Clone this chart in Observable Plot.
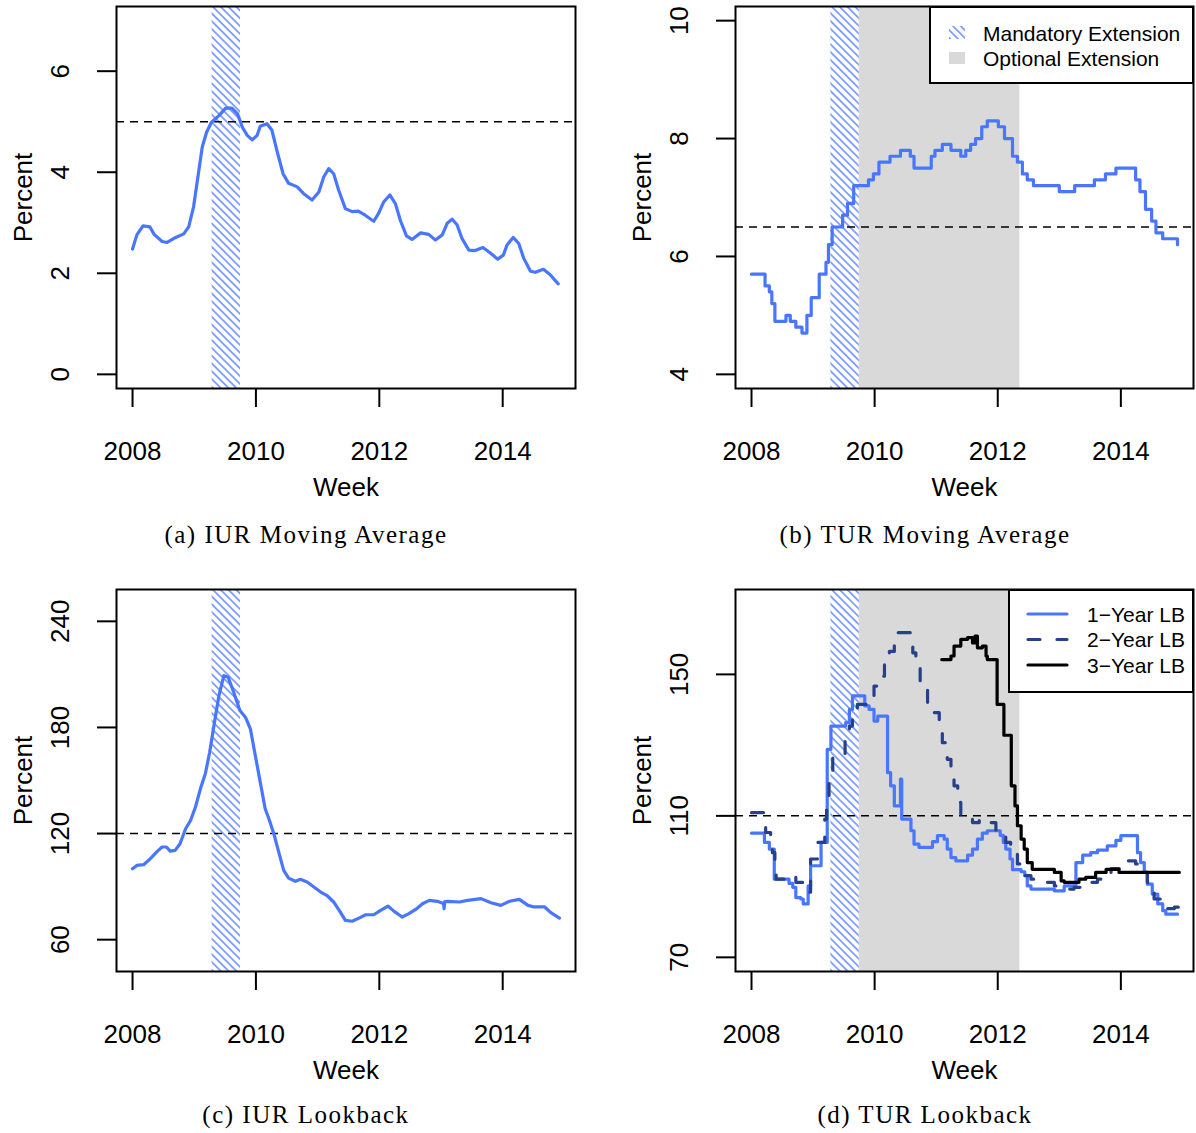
<!DOCTYPE html>
<html><head><meta charset="utf-8">
<script src="https://cdn.jsdelivr.net/npm/d3@7"></script>
<script src="https://cdn.jsdelivr.net/npm/@observablehq/plot@0.6"></script>
<style>
body{margin:0;background:#fff;}
#wrap{position:relative;width:1196px;height:1133px;background:#fff;overflow:hidden;}
.panel{position:absolute;}
.cap{position:absolute;width:500px;text-align:center;font-family:"Liberation Serif","Times New Roman",serif;font-size:25px;letter-spacing:1.5px;color:#000;line-height:30px;}
.legend{position:absolute;}
</style></head><body><div id="wrap"></div>
<script>
// ---------- data (decimal year, percent) ----------
const xTicks = [2008, 2010, 2012, 2014];
const mandatorySpan = [2009.29, 2009.75];
const optionalSpan = [2009.75, 2012.36];

const iurMaTicks = [0, 2, 4, 6];
const iurMaThreshold = 5;
const iurMa = [[2008.00,2.48],[2008.07,2.76],[2008.17,2.94],[2008.28,2.92],[2008.35,2.77],[2008.48,2.63],[2008.56,2.61],[2008.70,2.71],[2008.83,2.78],[2008.91,2.92],[2008.99,3.32],[2009.06,3.91],[2009.13,4.50],[2009.20,4.79],[2009.28,4.99],[2009.40,5.12],[2009.51,5.27],[2009.61,5.27],[2009.70,5.16],[2009.78,4.89],[2009.86,4.73],[2009.94,4.64],[2010.02,4.73],[2010.07,4.91],[2010.18,4.96],[2010.26,4.83],[2010.34,4.43],[2010.44,3.97],[2010.53,3.78],[2010.67,3.71],[2010.77,3.58],[2010.91,3.45],[2011.02,3.61],[2011.10,3.91],[2011.18,4.07],[2011.26,3.97],[2011.34,3.65],[2011.45,3.28],[2011.56,3.22],[2011.66,3.23],[2011.77,3.15],[2011.91,3.03],[2011.99,3.19],[2012.07,3.41],[2012.17,3.55],[2012.26,3.38],[2012.34,3.05],[2012.44,2.74],[2012.53,2.67],[2012.67,2.80],[2012.80,2.77],[2012.91,2.66],[2013.02,2.76],[2013.10,2.99],[2013.18,3.07],[2013.26,2.96],[2013.34,2.69],[2013.45,2.46],[2013.55,2.45],[2013.68,2.51],[2013.80,2.40],[2013.92,2.28],[2014.01,2.36],[2014.07,2.56],[2014.17,2.71],[2014.26,2.59],[2014.34,2.30],[2014.45,2.04],[2014.53,2.02],[2014.66,2.08],[2014.77,1.97],[2014.90,1.79]];

const turMaTicks = [4, 6, 8, 10];
const turMaThreshold = 6.5;
const turMa = [[2008.00,5.7],[2008.22,5.5],[2008.29,5.4],[2008.33,5.2],[2008.38,4.9],[2008.56,5.0],[2008.63,4.9],[2008.72,4.8],[2008.82,4.7],[2008.90,5.0],[2008.97,5.3],[2009.10,5.7],[2009.21,5.9],[2009.25,6.2],[2009.31,6.5],[2009.48,6.7],[2009.56,6.9],[2009.66,7.2],[2009.90,7.3],[2009.98,7.4],[2010.07,7.6],[2010.25,7.7],[2010.42,7.8],[2010.58,7.7],[2010.64,7.5],[2010.92,7.7],[2010.98,7.8],[2011.10,7.9],[2011.24,7.8],[2011.40,7.7],[2011.48,7.8],[2011.56,7.9],[2011.64,8.0],[2011.74,8.2],[2011.83,8.3],[2012.01,8.2],[2012.11,8.0],[2012.24,7.7],[2012.32,7.6],[2012.40,7.4],[2012.48,7.3],[2012.58,7.2],[2013.00,7.1],[2013.25,7.2],[2013.57,7.3],[2013.75,7.4],[2013.92,7.5],[2014.24,7.3],[2014.31,7.1],[2014.40,6.8],[2014.50,6.6],[2014.57,6.4],[2014.68,6.3],[2014.88,6.3],[2014.92,6.2]];

const iurLbTicks = [60, 120, 180, 240];
const iurLbThreshold = 120;
const iurLb = [[2008.00,100.1],[2008.07,102.0],[2008.18,102.4],[2008.29,105.8],[2008.40,109.9],[2008.48,112.4],[2008.55,112.4],[2008.61,110.1],[2008.69,110.5],[2008.77,114.2],[2008.86,122.7],[2008.94,127.4],[2009.02,135.0],[2009.10,145.3],[2009.18,153.8],[2009.25,166.0],[2009.32,181.1],[2009.40,198.0],[2009.48,209.3],[2009.55,208.4],[2009.64,199.9],[2009.74,189.6],[2009.83,185.8],[2009.91,179.2],[2009.99,164.1],[2010.07,149.1],[2010.15,134.0],[2010.21,128.4],[2010.29,119.9],[2010.37,109.5],[2010.45,99.2],[2010.53,94.8],[2010.64,93.0],[2010.72,94.1],[2010.83,92.6],[2010.94,89.8],[2011.05,86.9],[2011.16,84.7],[2011.26,81.3],[2011.35,76.6],[2011.45,70.9],[2011.56,70.4],[2011.67,72.2],[2011.78,74.1],[2011.91,74.1],[2012.02,76.6],[2012.14,79.0],[2012.24,76.0],[2012.37,72.8],[2012.48,74.7],[2012.59,77.1],[2012.70,80.3],[2012.81,82.2],[2012.94,81.7],[2013.04,80.5],[2013.05,77.5],[2013.06,81.5],[2013.11,81.7],[2013.30,81.3],[2013.43,82.2],[2013.65,83.2],[2013.81,80.9],[2013.97,79.4],[2014.11,81.7],[2014.27,82.8],[2014.41,79.4],[2014.51,78.5],[2014.68,78.5],[2014.78,75.3],[2014.92,72.2]];

const turLbTicks = [70, 110, 150];
const turLbThreshold = 110;
const turLb1 = [[2008.00,105.1],[2008.21,102.5],[2008.29,100.6],[2008.37,92.1],[2008.61,90.9],[2008.67,89.8],[2008.72,86.9],[2008.80,86.5],[2008.84,85.1],[2008.92,90.2],[2008.96,95.9],[2009.13,102.5],[2009.23,128.8],[2009.29,135.4],[2009.53,136.4],[2009.59,140.1],[2009.64,143.9],[2009.84,141.1],[2009.91,140.1],[2009.99,136.8],[2010.05,138.2],[2010.21,122.2],[2010.26,118.5],[2010.32,112.8],[2010.42,120.4],[2010.44,109.1],[2010.59,105.8],[2010.64,102.0],[2010.72,101.1],[2010.94,102.7],[2011.02,104.4],[2011.13,103.4],[2011.18,100.6],[2011.24,98.2],[2011.32,97.3],[2011.51,98.9],[2011.59,100.6],[2011.67,103.4],[2011.75,105.1],[2011.83,105.8],[2012.04,104.5],[2012.09,102.5],[2012.13,100.6],[2012.20,97.8],[2012.24,94.8],[2012.38,94.2],[2012.44,93.1],[2012.48,90.2],[2012.54,89.3],[2012.92,88.8],[2013.08,90.2],[2013.27,96.8],[2013.38,98.9],[2013.51,99.6],[2013.62,100.3],[2013.78,101.5],[2013.92,103.1],[2014.00,104.4],[2014.27,99.6],[2014.32,96.8],[2014.38,94.0],[2014.43,90.7],[2014.51,87.9],[2014.60,85.1],[2014.68,83.2],[2014.73,82.2],[2014.92,82.2]];
const turLb2 = [[2008.00,110.9],[2008.23,105.3],[2008.31,103.4],[2008.34,99.6],[2008.38,95.9],[2008.40,92.1],[2008.61,93.1],[2008.72,91.2],[2008.83,90.2],[2008.88,88.4],[2008.96,97.8],[2009.07,102.5],[2009.19,109.1],[2009.22,114.7],[2009.26,121.3],[2009.32,126.9],[2009.52,133.5],[2009.59,135.4],[2009.64,139.2],[2009.72,141.5],[2009.88,142.5],[2009.99,146.7],[2010.05,149.5],[2010.16,154.0],[2010.24,156.5],[2010.32,158.3],[2010.37,161.8],[2010.58,160.8],[2010.62,156.1],[2010.67,152.4],[2010.74,147.6],[2010.81,146.2],[2010.86,142.0],[2010.97,139.2],[2011.05,135.4],[2011.10,130.7],[2011.18,126.0],[2011.24,122.2],[2011.29,118.5],[2011.35,113.8],[2011.40,110.0],[2011.59,108.1],[2011.70,109.1],[2011.83,108.1],[2011.97,105.3],[2012.13,102.5],[2012.21,99.6],[2012.32,96.4],[2012.40,93.1],[2012.54,92.1],[2012.70,91.2],[2012.92,90.2],[2013.03,89.3],[2013.24,89.8],[2013.35,90.7],[2013.46,91.2],[2013.62,92.1],[2013.73,94.0],[2013.84,95.1],[2014.00,96.4],[2014.11,97.3],[2014.24,96.4],[2014.35,94.0],[2014.43,91.2],[2014.54,86.5],[2014.65,84.6],[2014.73,83.8],[2014.87,84.2],[2014.95,83.2]];
const turLb3 = [[2011.09,154.2],[2011.24,155.2],[2011.29,158.0],[2011.40,159.9],[2011.51,160.4],[2011.59,158.9],[2011.63,160.8],[2011.67,157.5],[2011.75,158.0],[2011.81,155.2],[2011.83,154.2],[2011.99,141.5],[2012.10,132.8],[2012.22,118.5],[2012.28,112.8],[2012.32,107.2],[2012.38,103.4],[2012.43,100.6],[2012.48,96.8],[2012.56,94.9],[2012.92,94.0],[2013.03,91.6],[2013.08,91.2],[2013.32,92.1],[2013.43,92.6],[2013.59,94.0],[2013.76,94.9],[2013.97,94.0],[2014.95,94.0]];

const legendB = ["Mandatory Extension", "Optional Extension"];
const legendD = ["1\u2212Year LB", "2\u2212Year LB", "3\u2212Year LB"];
const captions = ["(a) IUR Moving Average", "(b) TUR Moving Average", "(c) IUR Lookback", "(d) TUR Lookback"];

// ---------- styling ----------
const LIGHT = "#4876FF", NAVY = "#27408B", GRAY = "#D9D9D9";
const X_DOMAIN = [2007.74, 2015.18];
const FS = 26;
const wrap = document.getElementById("wrap");

function hatchDefs(id) {
  return `<pattern id="${id}" patternUnits="userSpaceOnUse" width="5.5" height="5.5" patternTransform="rotate(-45)">
    <line x1="2.75" y1="-1" x2="2.75" y2="7" stroke="${LIGHT}" stroke-width="1.6" stroke-opacity="0.8"/></pattern>`;
}

function makePanel({pid, left, top, width, marginRight, yDomain, yTicks, ref, lines, gray}) {
  const svg = Plot.plot({
    width, height: 510,
    marginLeft: 116, marginRight, marginTop: 6, marginBottom: 122,
    x: {domain: X_DOMAIN},
    y: {domain: yDomain},
    style: {fontFamily: "'Liberation Sans', Arial, Helvetica, sans-serif", fontSize: FS + "px", background: "transparent", color: "#000", overflow: "visible"},
    marks: [
      gray ? Plot.rect([optionalSpan], {x1: d => d[0], x2: d => d[1], fill: GRAY}) : null,
      Plot.rect([mandatorySpan], {x1: d => d[0], x2: d => d[1], fill: `url(#hatch-${pid})`}),
      Plot.ruleY([ref], {stroke: "#000", strokeWidth: 1.5, strokeDasharray: "8,6"}),
      ...lines,
      Plot.frame({stroke: "#000", strokeWidth: 2}),
      Plot.axisX(xTicks, {tickSize: 19, tickPadding: 34, tickFormat: d => String(d), label: null, fontSize: FS, strokeWidth: 2}),
      Plot.axisY(yTicks, {tickSize: 19, tickFormat: () => "", label: null, strokeWidth: 2}),
      Plot.text(yTicks, {y: d => d, text: d => String(d), frameAnchor: "left", textAnchor: "middle", lineAnchor: "middle", dx: -56, rotate: -90, fontSize: FS}),
      Plot.text(["Week"], {text: d => d, frameAnchor: "bottom", textAnchor: "middle", lineAnchor: "middle", dy: 99, fontSize: FS}),
      Plot.text(["Percent"], {text: d => d, frameAnchor: "left", textAnchor: "middle", lineAnchor: "middle", dx: -93, rotate: -90, fontSize: FS})
    ]
  });
  d3.select(svg).insert("defs", ":first-child").html(hatchDefs(`hatch-${pid}`));
  svg.classList.add("panel");
  svg.style.left = left + "px";
  svg.style.top = top + "px";
  wrap.appendChild(svg);
}

const lineOpts = (color, curve, extra = {}) => ({x: d => d[0], y: d => d[1], stroke: color, strokeWidth: 3.2, curve, strokeLinejoin: "round", strokeLinecap: "round", ...extra});

makePanel({pid: "a", left: 0, top: 0, width: 598, marginRight: 23, yDomain: [-0.28, 7.28], yTicks: iurMaTicks, ref: iurMaThreshold,
  lines: [Plot.line(iurMa, lineOpts(LIGHT, "linear"))]});
makePanel({pid: "b", left: 619, top: 0, width: 577, marginRight: 3, yDomain: [3.76, 10.24], yTicks: turMaTicks, ref: turMaThreshold, gray: true,
  lines: [Plot.line(turMa, lineOpts(LIGHT, "step-after"))]});
makePanel({pid: "c", left: 0, top: 583, width: 598, marginRight: 23, yDomain: [42, 258], yTicks: iurLbTicks, ref: iurLbThreshold,
  lines: [Plot.line(iurLb, lineOpts(LIGHT, "linear"))]});
makePanel({pid: "d", left: 619, top: 583, width: 577, marginRight: 3, yDomain: [66, 174], yTicks: turLbTicks, ref: turLbThreshold, gray: true,
  lines: [
    Plot.line(turLb1, lineOpts(LIGHT, "step-after")),
    Plot.line(turLb2, lineOpts(NAVY, "step-after", {strokeDasharray: "12,17"})),
    Plot.line(turLb3, lineOpts("#000", "step-after"))
  ]});

// ---------- captions ----------
[[0, 520], [619, 520], [0, 1100], [619, 1100]].forEach(([l, t], i) => {
  const div = document.createElement("div");
  div.className = "cap";
  div.style.left = (l + 306 - 250) + "px";
  div.style.top = t + "px";
  div.textContent = captions[i];
  wrap.appendChild(div);
});

// ---------- legends ----------
const lf = "font-family:'Liberation Sans',Arial,sans-serif;font-size:21px";
const lb = document.createElement("div");
lb.className = "legend";
lb.style.left = "929px"; lb.style.top = "6px";
lb.innerHTML = `<svg width="265" height="78" xmlns="http://www.w3.org/2000/svg">
  <defs>${hatchDefs("hatch-leg")}</defs>
  <rect x="1" y="1" width="263" height="76" fill="#fff" stroke="#000" stroke-width="2"/>
  <rect x="20" y="20" width="16" height="13" fill="url(#hatch-leg)"/>
  <rect x="20" y="46" width="16" height="12" fill="${GRAY}"/>
  <text x="54" y="27" dominant-baseline="central" style="${lf}">${legendB[0]}</text>
  <text x="54" y="52" dominant-baseline="central" style="${lf}">${legendB[1]}</text>
</svg>`;
wrap.appendChild(lb);

const ld = document.createElement("div");
ld.className = "legend";
ld.style.left = "1008px"; ld.style.top = "589px";
const sw = [[LIGHT, ""], [NAVY, "12,17"], ["#000", ""]];
ld.innerHTML = `<svg width="186" height="104" xmlns="http://www.w3.org/2000/svg">
  <rect x="1" y="1" width="184" height="102" fill="#fff" stroke="#000" stroke-width="2"/>
  ${legendD.map((t, i) => `<line x1="20" x2="59" y1="${25 + i * 25.5}" y2="${25 + i * 25.5}" stroke="${sw[i][0]}" stroke-width="3.2" stroke-linecap="round" ${sw[i][1] ? `stroke-dasharray="${sw[i][1]}"` : ""}/>
  <text x="79" y="${25 + i * 25.5}" dominant-baseline="central" style="${lf}">${t}</text>`).join("")}
</svg>`;
wrap.appendChild(ld);
</script></body></html>
